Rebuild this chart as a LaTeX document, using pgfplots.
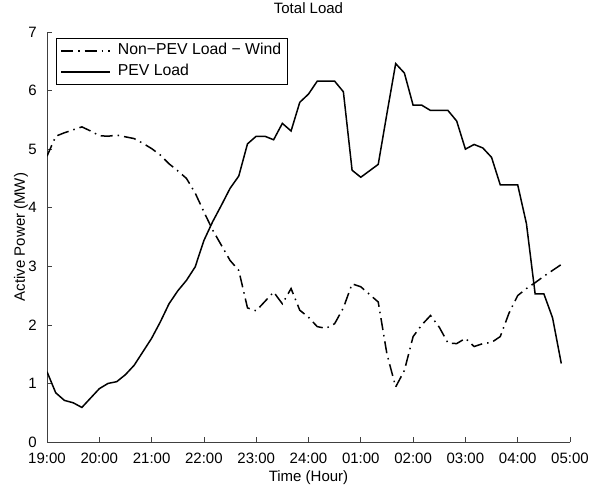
\documentclass[border=0pt]{standalone}
\usepackage{pgfplots}
\pgfplotsset{compat=1.18}
\usepackage{pgfplotstable}
\usepackage{fontspec}
\setmainfont{Liberation Sans}
\pgfplotstableread{
i pev wind
0 1.20 4.88
1 0.84 5.22
2 0.71 5.28
3 0.67 5.33
4 0.59 5.38
5 0.75 5.31
6 0.91 5.23
7 1.00 5.22
8 1.03 5.24
9 1.15 5.21
10 1.31 5.18
11 1.54 5.10
12 1.77 5.01
13 2.05 4.90
14 2.36 4.75
15 2.58 4.63
16 2.76 4.50
17 2.99 4.25
18 3.44 3.93
19 3.76 3.62
20 4.04 3.36
21 4.33 3.10
22 4.54 2.93
23 5.09 2.29
24 5.22 2.24
25 5.22 2.40
26 5.16 2.56
27 5.44 2.36
28 5.31 2.62
29 5.80 2.25
30 5.94 2.13
31 6.16 1.97
32 6.16 1.94
33 6.16 2.02
34 5.98 2.29
35 4.64 2.70
36 4.52 2.65
37 4.63 2.52
38 4.74 2.39
39 5.61 1.50
40 6.46 0.94
41 6.30 1.22
42 5.75 1.80
43 5.75 2.00
44 5.66 2.16
45 5.66 1.96
46 5.66 1.69
47 5.48 1.68
48 5.00 1.77
49 5.08 1.63
50 5.02 1.68
51 4.86 1.70
52 4.39 1.80
53 4.39 2.20
54 4.39 2.50
55 3.73 2.62
56 2.53 2.72
57 2.53 2.83
58 2.12 2.93
59 1.34 3.03
}\loaddata
\begin{document}
\begin{tikzpicture}
\begin{axis}[
  at={(0,0)}, anchor=south west,
  scale only axis, width=523bp, height=410bp,
  xmin=0, xmax=10, ymin=0, ymax=7,
  axis x line=bottom, axis y line=left,
  axis line style={-, black!75, line width=0.7bp},
  tick style={black!75, line width=0.7bp},
  tick align=inside, major tick length=5bp,
  xtick={0,1,2,3,4,5,6,7,8,9,10},
  xticklabels={19:00,20:00,21:00,22:00,23:00,24:00,01:00,02:00,03:00,04:00,05:00},
  ytick={0,1,2,3,4,5,6,7},
  tick label style={font=\fontsize{15bp}{18bp}\selectfont},
  /pgf/number format/assume math mode=true,
  xticklabel style={anchor=north, inner sep=0pt, yshift=-10.5bp},
  yticklabel style={anchor=east, inner sep=0pt, xshift=-10bp},
  title={Total Load},
  title style={font=\fontsize{15bp}{18bp}\selectfont, at={(axis description cs:0.5,1.0317)}, anchor=base, inner sep=0pt},
  xlabel={Time (Hour)},
  xlabel style={font=\fontsize{15bp}{18bp}\selectfont, at={(axis description cs:0.5,-0.0968)}, anchor=base, inner sep=0pt},
  ylabel={Active Power (MW)},
  ylabel style={font=\fontsize{15bp}{18bp}\selectfont, at={(axis description cs:-0.0421,0.5)}, anchor=base, inner sep=0pt},
  legend style={at={(axis description cs:0.0172,0.9854)}, anchor=north west,
    draw=black, line width=0.8bp, fill=white,
    inner xsep=4bp, inner ysep=3bp, row sep=2bp, column sep=5bp,
    nodes={inner sep=2bp, text height=11.5bp, text depth=3.5bp, font=\fontsize{15.8bp}{18bp}\selectfont}},
  legend cell align=left,
  legend image code/.code={\draw[#1] (2bp,0bp) -- (51bp,0bp);},
]
\addplot[black, line width=1.5bp, dash pattern=on 12bp off 5bp on 1.5bp off 5bp] table[x expr=\thisrow{i}/6, y=wind] {\loaddata};
\addlegendentry{Non−PEV Load − Wind}
\addplot[black, line width=1.5bp] table[x expr=\thisrow{i}/6, y=pev] {\loaddata};
\addlegendentry{PEV Load}
\end{axis}
\pgfresetboundingbox
\path[use as bounding box] (-47bp,-45bp) rectangle (545bp,442bp);
\end{tikzpicture}
\end{document}
